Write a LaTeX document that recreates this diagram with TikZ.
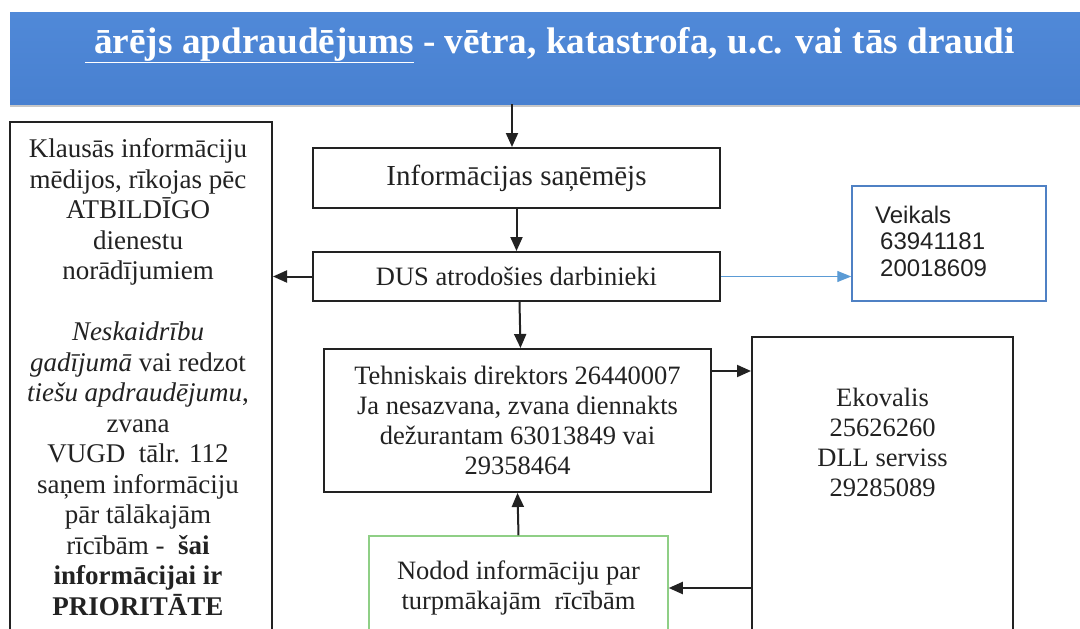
\documentclass[tikz,border=0pt]{standalone}
\usepackage{fontspec}
\setmainfont{Liberation Serif}
\newfontfamily\arialfont{Liberation Sans}
\usetikzlibrary{arrows.meta,shadows}
\definecolor{bannertop}{HTML}{5089D8}
\definecolor{bannerbot}{HTML}{4880D0}
\definecolor{ink}{HTML}{222222}
\definecolor{vblue}{HTML}{4F81C4}
\definecolor{ablue}{HTML}{5B9BD5}
\definecolor{vgreen}{HTML}{8FCF86}
\tikzset{
  box/.style={draw=ink, line width=2pt, fill=white, inner sep=0pt, align=center, text=ink,
    font=\fontsize{26.5}{30}\selectfont},
  arr/.style={draw=ink, line width=2pt, -{Triangle[length=14pt,width=12pt]}},
  blarr/.style={draw=ablue, line width=1.2pt, -{Triangle[length=14pt,width=11pt,fill=ablue]}},
  banner/.style={top color=bannertop, bottom color=bannerbot, draw=none,
    drop shadow={shadow xshift=0pt, shadow yshift=-3pt, opacity=0.22, fill=black}},
}
\begin{document}
\begin{tikzpicture}[x=1pt,y=-1pt]
\useasboundingbox (0,0) rectangle (1080,629);
\clip (0,0) rectangle (1080,629);
\fill[white] (0,0) rectangle (1080,629);
% banner
\node[banner, minimum width=1080pt, minimum height=92pt, inner sep=0pt] (banner) at (550,58) {};
\node[text=white, inner sep=0pt] (title) at (550,45)
  {\resizebox{930pt}{\height}{\fontsize{37}{40}\selectfont\bfseries\underline{\ ārējs apdraudējums} - vētra, katastrofa, u.c. vai tās draudi}};
% boxes
\node[box, minimum width=262pt, minimum height=578pt] (leftbox) at (141,411) {};
\node[align=center, text=ink, inner sep=0pt, font=\fontsize{27}{30.5}\selectfont] (lefttext) at (138,377)
  {Klausās informāciju\\ mēdijos, rīkojas pēc\\ ATBILDĪGO\\ dienestu\\ norādījumiem\\[30.5pt]
   \textit{Neskaidrību}\\ \textit{gadījumā} vai redzot\\ \textit{tiešu apdraudējumu},\\ zvana\\
   VUGD\ \ tālr. 112\hspace*{46pt}\\ saņem informāciju\\ pār tālākajām\\ rīcībām -\ \ \textbf{šai}\\
   \textbf{informācijai ir}\\ \textbf{PRIORITĀTE}};
\node[box, minimum width=407pt, minimum height=60pt] (info) at (516.5,178)
  {\fontsize{29}{32}\selectfont Informācijas saņēmējs};
\node[box, minimum width=407pt, minimum height=49pt] (dus) at (516.5,276.5)
  {DUS atrodošies darbinieki};
\node[box, minimum width=387pt, minimum height=143pt] (tech) at (517.5,420.5)
  {Tehniskais direktors 26440007\\ Ja nesazvana, zvana diennakts\\ dežurantam 63013849 vai\\ 29358464};
\node[box, draw=vblue, line width=1.5pt, minimum width=194pt, minimum height=115pt] (veikals) at (949,243.5) {};
\node[anchor=west, align=left, inner sep=0pt, text=ink, font=\arialfont\fontsize{24}{26.5}\selectfont] (vtext) at (875,241)
  {Veikals\\ \hspace*{5pt}63941181\\ \hspace*{5pt}20018609};
\node[box, minimum width=261pt, minimum height=363pt] (eko) at (882.5,518.5) {};
\node[align=center, text=ink, inner sep=0pt, font=\fontsize{26.5}{30}\selectfont] (ekotext) at (882.5,442)
  {Ekovalis\\ 25626260\\ DLL serviss\\ 29285089};
\node[box, draw=vgreen, line width=1.5pt, minimum width=299pt, minimum height=104pt] (green) at (518.5,588)
  {Nodod informāciju par\\ turpmākajām\ \ rīcībām};
% connectors
\coordinate (r1) at (0,371);
\draw[arr] ([xshift=-4.5pt]banner.south -| info.north) -- ([xshift=-4.5pt]info.north);
\draw[arr] (info.south) -- (dus.north);
\draw[arr] ([xshift=3pt]dus.south) -- ([xshift=3pt]tech.north);
\draw[arr] (dus.west) -- (leftbox.east |- dus.west);
\draw[blarr] (dus.east) -- (veikals.west |- dus.east);
\draw[arr] (tech.east |- r1) -- (eko.west |- r1);
\draw[arr] (green.north) -- (tech.south);
\draw[arr] (eko.west |- green.east) -- (green.east);
\end{tikzpicture}
\end{document}
